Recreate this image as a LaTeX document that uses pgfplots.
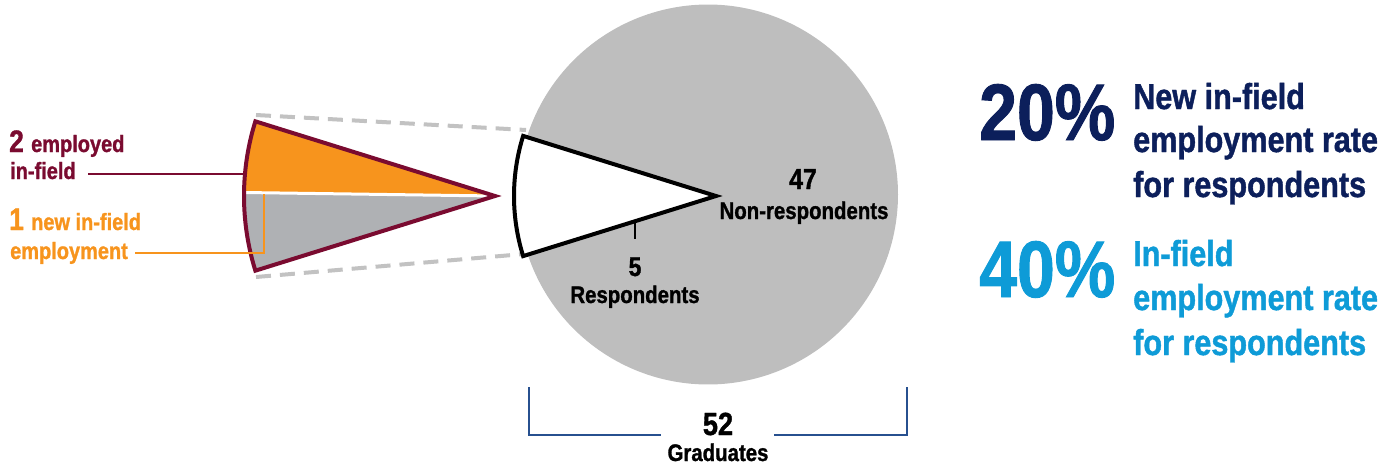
\documentclass[border=0pt]{standalone}
\usepackage{fontspec}
\setmainfont{Liberation Sans}[FakeStretch=0.85, BoldFeatures={FakeBold=1.2}]
\usepackage{pgfplots}
\pgfplotsset{compat=1.18}
\definecolor{pieGray}{HTML}{BEBEBE}
\definecolor{wedgeGray}{HTML}{AFB1B4}
\definecolor{dashGray}{HTML}{C2C2C2}
\definecolor{darkRed}{HTML}{7A0B30}
\definecolor{oranj}{HTML}{F7941D}
\definecolor{navy}{HTML}{0C1F5B}
\definecolor{lightBlue}{HTML}{0E9BD7}
\definecolor{bracketBlue}{HTML}{27508F}
\newcommand\fs[1]{\fontsize{#1}{#1}\selectfont\bfseries}
% data
\def\Total{52}
\def\Resp{5}
\def\NonResp{47}
\def\Employed{2}
\def\NewEmp{1}
\pgfmathsetmacro\Half{180*\Resp/\Total}
\pgfmathsetmacro\Alo{180-\Half}
\pgfmathsetmacro\Ahi{180+\Half}
\begin{document}
\begin{tikzpicture}
\begin{axis}[width=1398pt,height=469pt,scale only axis,
  xmin=0,xmax=1398,ymin=0,ymax=469,y dir=reverse,hide axis,clip=false]
% dashed connectors
\addplot[dashGray, line width=4pt, dash pattern=on 15pt off 9pt] coordinates {(256,115) (526,130)};
\addplot[dashGray, line width=4pt, dash pattern=on 15pt off 9pt] coordinates {(256,277) (524,254)};
% main pie (non-respondents)
\addplot[draw=none, fill=pieGray, domain=0:360, samples=240] ({708+190*cos(x)},{194.5+190*sin(x)});
% respondents slice
\addplot[fill=white, draw=black, line width=4pt, line join=miter, domain=\Alo:\Ahi, samples=60]
  ({716+202*cos(x)},{196+202*sin(x)}) -- (axis cs:716,196) -- cycle;
% exploded wedge
\addplot[fill=oranj, draw=none, domain=180.8:\Ahi, samples=50]
  ({495+251*cos(x)},{196+251*sin(x)}) -- (axis cs:495,196) -- cycle;
\addplot[fill=wedgeGray, draw=none, domain=\Alo:180.8, samples=50]
  ({495+251*cos(x)},{196+251*sin(x)}) -- (axis cs:495,196) -- cycle;
\addplot[white, line width=3pt] coordinates {(495,196) (244,192.5)};
\addplot[draw=darkRed, line width=4pt, line join=miter, domain=\Alo:\Ahi, samples=60]
  ({495+251*cos(x)},{196+251*sin(x)}) -- (axis cs:495,196) -- cycle;
% leader lines
\addplot[darkRed, line width=2.5pt] coordinates {(88,174) (243,174)};
\addplot[oranj, line width=2.5pt] coordinates {(135,253) (264,253) (264,194)};
\addplot[black, line width=2pt] coordinates {(635,222) (635,239)};
% bracket
\addplot[bracketBlue, line width=2.5pt] coordinates {(529,387) (529,435) (661,435)};
\addplot[bracketBlue, line width=2.5pt] coordinates {(774,435) (907,435) (907,387)};
% left labels
\node[anchor=base west, inner sep=0, text=darkRed] at (axis cs:9,152) {\fs{31}\Employed\ \fs{23.5}employed};
\node[anchor=base west, inner sep=0, text=darkRed] at (axis cs:10,179) {\fs{23.5}in-field};
\node[anchor=base west, inner sep=0, text=oranj] at (axis cs:9,230) {\fs{31}\NewEmp\ \fs{23.5}new in-field};
\node[anchor=base west, inner sep=0, text=oranj] at (axis cs:10,259) {\fs{23.5}employment};
% pie labels
\node[anchor=base, inner sep=0] at (axis cs:803,189) {\fs{29}\NonResp};
\node[anchor=base, inner sep=0] at (axis cs:804,219) {\fs{24}Non-respondents};
\node[anchor=base, inner sep=0] at (axis cs:635,276) {\fs{27}\Resp};
\node[anchor=base, inner sep=0] at (axis cs:635,303) {\fs{24}Respondents};
\node[anchor=base, inner sep=0] at (axis cs:718,435) {\fs{32}\Total};
\node[anchor=base, inner sep=0] at (axis cs:718,461) {\fs{24}Graduates};
% right stats
\node[anchor=base west, inner sep=0, text=navy] at (axis cs:979,140) {\fs{80}20\%};
\node[anchor=base west, inner sep=0, text=navy] at (axis cs:1133,109) {\fs{36}New in-field};
\node[anchor=base west, inner sep=0, text=navy] at (axis cs:1133,152) {\fs{36}employment rate};
\node[anchor=base west, inner sep=0, text=navy] at (axis cs:1133,197) {\fs{36}for respondents};
\node[anchor=base west, inner sep=0, text=lightBlue] at (axis cs:979,297) {\fs{80}40\%};
\node[anchor=base west, inner sep=0, text=lightBlue] at (axis cs:1133,266) {\fs{36}In-field};
\node[anchor=base west, inner sep=0, text=lightBlue] at (axis cs:1133,310) {\fs{36}employment rate};
\node[anchor=base west, inner sep=0, text=lightBlue] at (axis cs:1133,355) {\fs{36}for respondents};
\end{axis}
\pgfresetboundingbox
\path (0,0) rectangle (1398pt,469pt);
\end{tikzpicture}
\end{document}
